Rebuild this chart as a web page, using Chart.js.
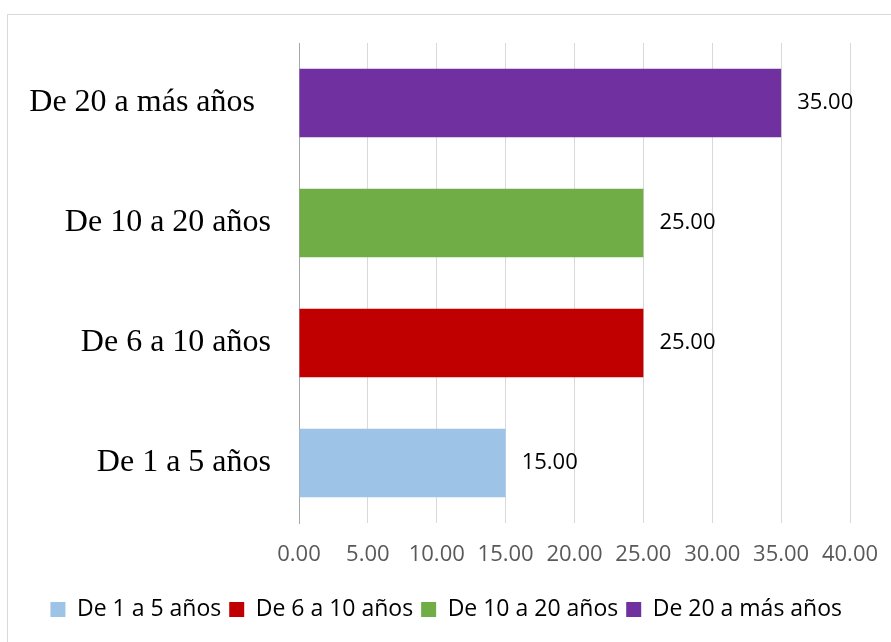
<!DOCTYPE html>
<html>
<head>
<meta charset="utf-8">
<script src="https://cdn.jsdelivr.net/npm/chart.js@4.4.0/dist/chart.umd.min.js"></script>
<style>
    body { margin: 0; background: #fff; }
    #wrap { width: 891px; height: 642px; }
</style>
</head>
<body>
<div id="wrap"><canvas id="chart" width="891" height="642"></canvas></div>
<script>
// data, bottom to top as in the original
const categories = ["De 1 a 5 años", "De 6 a 10 años", "De 10 a 20 años", "De 20 a más años  "];
const values = [15, 25, 25, 35];
const colors = ["#9DC3E6", "#C00000", "#70AD47", "#7030A0"];
const xTicks = [0, 5, 10, 15, 20, 25, 30, 35, 40];

// one dataset per category so the legend gets one entry each
const datasets = categories.map((cat, i) => ({
    label: cat.trim(),
    data: categories.map((c, j) => (j === i ? values[i] : null)),
    backgroundColor: colors[i],
    borderWidth: 0,
    barPercentage: 0.57,
    categoryPercentage: 1
}));

// outer frame
const framePlugin = {
    id: "frame",
    beforeDraw(chart) {
        const ctx = chart.ctx;
        ctx.save();
        ctx.strokeStyle = "#d9d9d9";
        ctx.lineWidth = 1;
        ctx.strokeRect(7.5, 14.5, 1000, 1000);
        ctx.restore();
    }
};

// value labels at the end of each bar
const valueLabels = {
    id: "valueLabels",
    afterDatasetsDraw(chart) {
        const ctx = chart.ctx;
        ctx.save();
        ctx.font = "22px 'Open Sans'";
        ctx.fillStyle = "#000";
        ctx.textAlign = "left";
        ctx.textBaseline = "middle";
        chart.data.datasets.forEach((ds, i) => {
            const meta = chart.getDatasetMeta(i);
            meta.data.forEach((bar, j) => {
                const v = ds.data[j];
                if (v === null) return;
                ctx.fillText(v.toFixed(2), bar.x + 16, bar.y);
            });
        });
        ctx.restore();
    }
};

new Chart(document.getElementById("chart").getContext("2d"), {
    type: "bar",
    data: {
        labels: categories,
        datasets: datasets
    },
    options: {
        indexAxis: "y",
        responsive: false,
        animation: false,
        layout: {
            padding: { left: 0, right: 41, top: 43, bottom: 11 }
        },
        scales: {
            x: {
                stacked: true,
                min: 0,
                max: 40,
                afterBuildTicks: (scale) => {
                    scale.ticks = xTicks.map(v => ({ value: v }));
                },
                afterFit: (scale) => {
                    scale.height = 67;
                    scale.paddingLeft = 0;
                    scale.paddingRight = 0;
                },
                grid: { color: "#d9d9d9", drawTicks: false },
                border: { display: false },
                ticks: {
                    padding: 19,
                    color: "#595959",
                    font: { family: "'Open Sans'", size: 22 },
                    callback: (v) => Number(v).toFixed(2)
                }
            },
            y: {
                stacked: true,
                reverse: true,
                afterFit: (scale) => {
                    scale.width = 299;
                    scale.paddingTop = 0;
                    scale.paddingBottom = 0;
                },
                grid: { display: false, drawTicks: false },
                border: { display: true, color: "#a6a6a6", width: 1 },
                ticks: {
                    padding: 28,
                    color: "#000",
                    font: { family: "'Liberation Serif', 'Times New Roman', serif", size: 32 }
                }
            }
        },
        plugins: {
            legend: {
                position: "bottom",
                align: "end",
                labels: {
                    boxWidth: 15,
                    boxHeight: 15,
                    padding: 8,
                    color: "#000",
                    font: { family: "'Open Sans'", size: 23 }
                }
            },
            tooltip: { enabled: false }
        }
    },
    plugins: [framePlugin, valueLabels]
});
</script>
</body>
</html>
